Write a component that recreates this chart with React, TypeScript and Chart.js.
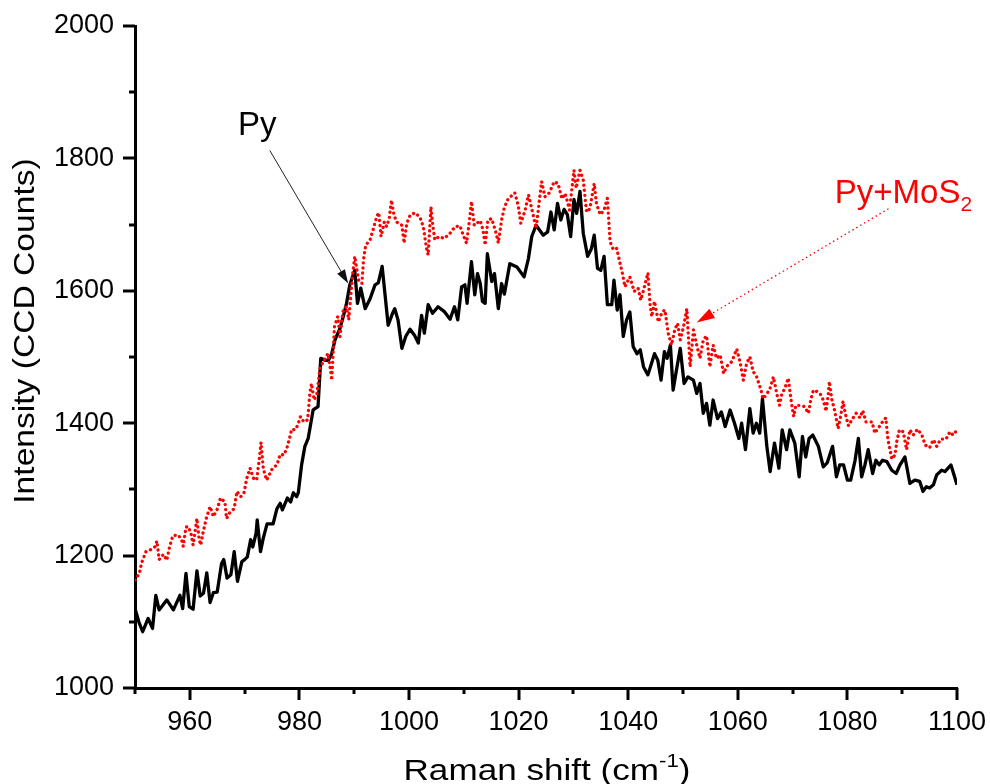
import React, { useEffect, useRef } from 'react';
import { Chart, registerables } from 'chart.js';

Chart.register(...registerables);

// ---- Data ----
const pyX = [
  950, 950.7, 951.4, 952.4, 953.2, 953.8, 954.4, 955.8, 957, 958.2, 958.7, 959.3, 959.9, 960.6, 961.3, 961.9,
  962.5, 963.1, 963.7, 964.3, 965, 965.8, 966.2, 966.8, 967.5, 968.1, 968.7, 969.5, 970, 970.5, 971.1, 971.5,
  972.1, 972.3, 972.9, 973.4, 974.1, 975.2, 975.9, 976.5, 976.9, 977.8, 978.4, 978.9, 979.5, 979.8, 980.4, 981,
  981.6, 982.5, 983.4, 983.9, 984.7, 985.3, 985.9, 986.5, 987.4, 988, 988.6, 989.2, 990.1, 990.6, 991.2, 992,
  992.9, 993.8, 994.4, 995.1, 996.2, 997, 997.4, 998, 998.7, 999.4, 1000.2, 1001, 1001.7, 1002.3, 1002.8, 1003.5,
  1004.3, 1005.3, 1006.4, 1007.5, 1008.3, 1008.9, 1009.6, 1010.2, 1010.6, 1011.4, 1012, 1012.5, 1013, 1013.4, 1013.9, 1014.3,
  1015.1, 1015.6, 1016.3, 1016.9, 1017.4, 1018.4, 1019.7, 1021, 1021.8, 1022.4, 1023.2, 1024.5, 1025.3, 1025.9, 1026.5, 1027.1,
  1027.7, 1028.3, 1028.9, 1029.5, 1030.1, 1030.6, 1031.2, 1031.8, 1032.6, 1033.3, 1033.8, 1034.4, 1035, 1035.6, 1036.2, 1037,
  1037.4, 1038, 1038.5, 1039.1, 1039.7, 1040.3, 1040.9, 1041.6, 1042.2, 1042.8, 1043.6, 1044.8, 1045.4, 1046, 1046.6, 1047.1,
  1047.7, 1048.2, 1048.8, 1049.5, 1050.2, 1050.9, 1051.9, 1052.5, 1053.1, 1053.7, 1054.3, 1054.9, 1055.5, 1056.3, 1057, 1057.7,
  1058.6, 1059.4, 1060.2, 1060.7, 1061.4, 1062.2, 1062.8, 1063.4, 1064, 1064.5, 1065.3, 1065.9, 1066.7, 1067.5, 1068.1, 1068.9,
  1069.5, 1070.4, 1071.2, 1071.8, 1072.4, 1073, 1073.7, 1074.7, 1075.6, 1076.3, 1077.3, 1078, 1078.6, 1079.3, 1080, 1080.6,
  1081.4, 1082, 1082.6, 1083.2, 1083.8, 1084.6, 1085.2, 1085.8, 1086.4, 1087.2, 1088.1, 1088.9, 1089.6, 1090.5, 1091.4, 1092.3,
  1093.2, 1093.8, 1094.4, 1095, 1095.7, 1096.3, 1097.2, 1097.8, 1098.9, 1100,
];
const pyY = [
  1120, 1100, 1085, 1105, 1090, 1140, 1118, 1133, 1118, 1140, 1120, 1173, 1123, 1119, 1177, 1139,
  1143, 1174, 1129, 1144, 1145, 1188, 1194, 1166, 1171, 1206, 1161, 1191, 1194, 1198, 1224, 1213,
  1234, 1254, 1206, 1226, 1248, 1248, 1271, 1279, 1269, 1287, 1281, 1295, 1289, 1295, 1337, 1365,
  1377, 1420, 1425, 1498, 1495, 1495, 1505, 1526, 1543, 1561, 1581, 1609, 1631, 1581, 1604, 1573,
  1588, 1609, 1612, 1637, 1548, 1566, 1573, 1556, 1513, 1531, 1542, 1533, 1521, 1563, 1536, 1579,
  1566, 1576, 1569, 1557, 1576, 1556, 1606, 1609, 1581, 1644, 1594, 1626, 1611, 1584, 1581, 1656,
  1614, 1626, 1573, 1611, 1595, 1641, 1636, 1621, 1649, 1682, 1699, 1684, 1689, 1719, 1692, 1732,
  1707, 1723, 1715, 1682, 1738, 1717, 1750, 1687, 1652, 1664, 1684, 1634, 1631, 1652, 1579, 1579,
  1616, 1571, 1594, 1531, 1556, 1568, 1516, 1505, 1511, 1485, 1473, 1505, 1495, 1465, 1508, 1498,
  1518, 1450, 1480, 1513, 1460, 1470, 1465, 1445, 1460, 1415, 1430, 1397, 1435, 1407, 1417, 1395,
  1420, 1400, 1377, 1400, 1360, 1422, 1385, 1400, 1385, 1437, 1365, 1327, 1370, 1332, 1390, 1360,
  1390, 1370, 1319, 1380, 1349, 1377, 1382, 1365, 1334, 1340, 1365, 1319, 1337, 1337, 1314, 1314,
  1344, 1377, 1319, 1337, 1360, 1324, 1344, 1337, 1344, 1342, 1329, 1324, 1337, 1349, 1309, 1314,
  1312, 1297, 1304, 1302, 1307, 1322, 1329, 1327, 1337, 1307,
];

const mosX = [
  950, 950.8, 951.2, 952, 952.9, 953.6, 954, 954.4, 955.2, 955.8, 956.3, 956.9, 957.9, 958.5, 958.8, 959.3,
  959.7, 960.2, 960.6, 961.3, 961.7, 962, 962.4, 963, 963.7, 964.3, 965, 965.6, 966.4, 966.7, 967.3, 968.1,
  968.6, 969.3, 969.9, 970.4, 971, 971.6, 972.2, 972.7, 973, 973.4, 974, 974.5, 975.1, 975.9, 976.5, 977.2,
  977.8, 978.2, 978.6, 979.2, 979.7, 980.2, 980.8, 981.5, 981.9, 982.2, 982.7, 983.2, 983.8, 984.4, 985.2, 985.6,
  985.9, 986.4, 987, 987.4, 988, 988.6, 989, 989.7, 990.1, 990.8, 991.4, 991.7, 992.1, 992.9, 993.5, 994.1,
  994.5, 994.9, 995.5, 995.9, 996.4, 996.8, 997.2, 997.7, 998.7, 999.1, 999.6, 1000.2, 1001.1, 1002, 1002.6, 1003.2,
  1003.5, 1004, 1004.3, 1004.7, 1005.5, 1006.4, 1007.5, 1008.4, 1009.3, 1009.9, 1010.5, 1011, 1011.4, 1011.9, 1013, 1013.5,
  1013.9, 1014.4, 1015.1, 1015.9, 1016.3, 1016.9, 1017.4, 1018.1, 1019.3, 1019.9, 1020.4, 1021.2, 1021.8, 1022.4, 1023.2, 1023.8,
  1024.2, 1024.8, 1025.6, 1026.5, 1027.2, 1027.9, 1028.5, 1029.3, 1030.1, 1030.5, 1031.2, 1031.8, 1032.4, 1033, 1033.8, 1034.2,
  1034.9, 1035.6, 1036.2, 1036.7, 1037.3, 1037.9, 1038.5, 1039, 1039.4, 1040.3, 1041.1, 1041.8, 1042.3, 1042.8, 1043.6, 1044,
  1044.3, 1044.8, 1045.5, 1046.2, 1046.7, 1047.3, 1047.9, 1048.5, 1049, 1049.5, 1050.1, 1050.7, 1051.3, 1051.9, 1052.5, 1053.1,
  1053.7, 1054.3, 1054.9, 1055.5, 1056.1, 1056.8, 1057.4, 1058, 1058.9, 1059.8, 1060.4, 1061, 1061.6, 1062.2, 1062.8, 1063.4,
  1064.2, 1064.6, 1065.3, 1065.9, 1066.5, 1067.1, 1067.6, 1068, 1068.6, 1069.2, 1069.8, 1070.2, 1070.6, 1071.2, 1072.2, 1072.9,
  1073.3, 1073.8, 1074.4, 1075, 1075.6, 1076.1, 1076.5, 1076.7, 1077.1, 1077.7, 1078.3, 1078.8, 1079.2, 1079.6, 1080.2, 1080.8,
  1081.6, 1082.3, 1082.8, 1083.4, 1084.5, 1085, 1085.6, 1086.4, 1087, 1087.4, 1088.1, 1088.7, 1089, 1089.5, 1090.2, 1090.8,
  1091.4, 1092, 1092.8, 1093.6, 1094.2, 1095, 1095.7, 1096.3, 1097, 1098, 1098.7, 1099.3, 1100,
];
const mosY = [
  1163, 1173, 1189, 1206, 1209, 1213, 1222, 1194, 1202, 1193, 1213, 1230, 1231, 1224, 1214, 1243,
  1244, 1234, 1216, 1256, 1224, 1216, 1234, 1256, 1274, 1259, 1270, 1287, 1281, 1256, 1265, 1271,
  1297, 1289, 1295, 1317, 1332, 1317, 1314, 1347, 1371, 1332, 1314, 1322, 1332, 1337, 1353, 1352,
  1365, 1377, 1391, 1390, 1397, 1410, 1402, 1405, 1445, 1460, 1435, 1445, 1485, 1493, 1505, 1485,
  1465, 1546, 1561, 1531, 1571, 1576, 1556, 1624, 1652, 1616, 1611, 1647, 1669, 1677, 1694, 1712,
  1718, 1682, 1704, 1697, 1709, 1737, 1717, 1704, 1699, 1672, 1702, 1714, 1718, 1711, 1697, 1664,
  1654, 1727, 1702, 1677, 1682, 1679, 1687, 1697, 1698, 1684, 1672, 1704, 1735, 1699, 1706, 1692,
  1669, 1707, 1709, 1687, 1672, 1707, 1726, 1739, 1748, 1730, 1702, 1722, 1745, 1724, 1694, 1737,
  1765, 1742, 1748, 1765, 1762, 1739, 1747, 1722, 1782, 1755, 1782, 1767, 1719, 1724, 1762, 1732,
  1715, 1722, 1740, 1674, 1662, 1664, 1642, 1624, 1606, 1621, 1599, 1604, 1586, 1601, 1627, 1579,
  1561, 1584, 1553, 1568, 1571, 1536, 1518, 1541, 1551, 1526, 1546, 1573, 1485, 1541, 1518, 1498,
  1526, 1532, 1485, 1518, 1498, 1503, 1475, 1486, 1493, 1512, 1493, 1465, 1490, 1500, 1478, 1471,
  1451, 1437, 1444, 1453, 1470, 1445, 1427, 1443, 1453, 1468, 1430, 1410, 1427, 1427, 1425, 1415,
  1435, 1450, 1448, 1445, 1435, 1418, 1443, 1463, 1438, 1418, 1392, 1412, 1433, 1415, 1396, 1405,
  1415, 1408, 1419, 1402, 1402, 1385, 1392, 1402, 1408, 1375, 1346, 1352, 1372, 1390, 1387, 1360,
  1390, 1382, 1391, 1382, 1367, 1363, 1375, 1365, 1376, 1376, 1387, 1382, 1390,
];

const xTickValues = [950, 960, 970, 980, 990, 1000, 1010, 1020, 1030, 1040, 1050, 1060, 1070, 1080, 1090, 1100];
const xLabelledTicks = [960, 980, 1000, 1020, 1040, 1060, 1080, 1100];
const yTickValues = [1000, 1100, 1200, 1300, 1400, 1500, 1600, 1700, 1800, 1900, 2000];
const yLabelledTicks = [1000, 1200, 1400, 1600, 1800, 2000];

const seriesNames = ['Py+MoS2', 'Py'];

// Annotation anchors, in data units
const pyLabel = { text: 'Py', x: 968.8, y: 1835 };
const pyArrow = { x1: 974.6, y1: 1812, x2: 988.9, y2: 1611 };
const mosLabel = { main: 'Py+MoS', sub: '2', x: 1077.7, y: 1732 };
const mosArrow = { x1: 1087.5, y1: 1724, x2: 1052.5, y2: 1552 };

const FONT = '"Liberation Sans", Arial, Helvetica, sans-serif';
const RED = '#ff0000';

function drawArrowHead(ctx: CanvasRenderingContext2D, x1: number, y1: number, x2: number, y2: number, len: number, wid: number, color: string) {
  const a = Math.atan2(y2 - y1, x2 - x1);
  ctx.save();
  ctx.fillStyle = color;
  ctx.beginPath();
  ctx.moveTo(x2, y2);
  ctx.lineTo(x2 - len * Math.cos(a) + (wid / 2) * Math.sin(a), y2 - len * Math.sin(a) - (wid / 2) * Math.cos(a));
  ctx.lineTo(x2 - len * Math.cos(a) - (wid / 2) * Math.sin(a), y2 - len * Math.sin(a) + (wid / 2) * Math.cos(a));
  ctx.closePath();
  ctx.fill();
  ctx.restore();
}

const decorPlugin = {
  id: 'decor',
  afterDraw(chart: any) {
    const ctx: CanvasRenderingContext2D = chart.ctx;
    const xs = chart.scales.x;
    const ys = chart.scales.y;
    const area = chart.chartArea;
    ctx.save();

    // tick marks (major long, minor short)
    ctx.strokeStyle = '#000';
    ctx.lineWidth = 3;
    ctx.lineCap = 'butt';
    for (const v of xTickValues) {
      const px = Math.round(xs.getPixelForValue(v));
      const len = xLabelledTicks.includes(v) ? 12 : 6;
      ctx.beginPath();
      ctx.moveTo(px, area.bottom);
      ctx.lineTo(px, area.bottom + len);
      ctx.stroke();
    }
    for (const v of yTickValues) {
      const py = Math.round(ys.getPixelForValue(v));
      const len = yLabelledTicks.includes(v) ? 12 : 6;
      ctx.beginPath();
      ctx.moveTo(area.left - len, py);
      ctx.lineTo(area.left, py);
      ctx.stroke();
    }

    // x axis title with superscript
    ctx.fillStyle = '#000';
    ctx.textBaseline = 'alphabetic';
    ctx.textAlign = 'left';
    const xStretch = 1.17;
    const yStretch = 1.12;
    const big = `30px ${FONT}`;
    const small = `19px ${FONT}`;
    ctx.font = big;
    const w1 = ctx.measureText('Raman shift (cm').width;
    const w3 = ctx.measureText(')').width;
    ctx.font = small;
    const w2 = ctx.measureText('-1').width;
    const total = (w1 + w2 + w3) * xStretch;
    const cx = (area.left + area.right) / 2 + 1;
    ctx.save();
    ctx.translate(cx - total / 2, 780);
    ctx.scale(xStretch, 1);
    ctx.font = big;
    ctx.fillText('Raman shift (cm', 0, 0);
    ctx.font = small;
    ctx.fillText('-1', w1, -13);
    ctx.font = big;
    ctx.fillText(')', w1 + w2, 0);
    ctx.restore();

    // y axis title
    ctx.save();
    ctx.translate(34, (area.top + area.bottom) / 2 - 26);
    ctx.rotate(-Math.PI / 2);
    ctx.scale(yStretch, 1);
    ctx.font = big;
    ctx.textAlign = 'center';
    ctx.fillText('Intensity (CCD Counts)', 0, 0);
    ctx.restore();

    // Py annotation
    ctx.font = `33px ${FONT}`;
    ctx.fillStyle = '#000';
    ctx.textAlign = 'left';
    ctx.fillText(pyLabel.text, xs.getPixelForValue(pyLabel.x), ys.getPixelForValue(pyLabel.y));
    {
      const x1 = xs.getPixelForValue(pyArrow.x1), y1 = ys.getPixelForValue(pyArrow.y1);
      const x2 = xs.getPixelForValue(pyArrow.x2), y2 = ys.getPixelForValue(pyArrow.y2);
      const a = Math.atan2(y2 - y1, x2 - x1);
      ctx.strokeStyle = '#222';
      ctx.lineWidth = 1;
      ctx.beginPath();
      ctx.moveTo(x1, y1);
      ctx.lineTo(x2 - 10 * Math.cos(a), y2 - 10 * Math.sin(a));
      ctx.stroke();
      drawArrowHead(ctx, x1, y1, x2, y2, 14, 9, '#111');
    }

    // Py+MoS2 annotation
    ctx.fillStyle = RED;
    const mx = xs.getPixelForValue(mosLabel.x);
    const my = ys.getPixelForValue(mosLabel.y);
    ctx.font = `33px ${FONT}`;
    const mw = ctx.measureText(mosLabel.main).width;
    ctx.fillText(mosLabel.main, mx, my);
    ctx.font = `21px ${FONT}`;
    ctx.fillText(mosLabel.sub, mx + mw, my + 8);
    {
      const x1 = xs.getPixelForValue(mosArrow.x1), y1 = ys.getPixelForValue(mosArrow.y1);
      const x2 = xs.getPixelForValue(mosArrow.x2), y2 = ys.getPixelForValue(mosArrow.y2);
      const a = Math.atan2(y2 - y1, x2 - x1);
      ctx.strokeStyle = RED;
      ctx.lineWidth = 1.3;
      ctx.setLineDash([1.5, 3]);
      ctx.beginPath();
      ctx.moveTo(x1, y1);
      ctx.lineTo(x2 - 14 * Math.cos(a), y2 - 14 * Math.sin(a));
      ctx.stroke();
      ctx.setLineDash([]);
      drawArrowHead(ctx, x1, y1, x2, y2, 18, 11, RED);
    }

    ctx.restore();
  },
};

function zeroPad(s: any) {
  s.paddingTop = 0;
  s.paddingBottom = 0;
  s.paddingLeft = 0;
  s.paddingRight = 0;
}

export default function App() {
  const canvasRef = useRef<HTMLCanvasElement | null>(null);

  useEffect(() => {
    const canvas = canvasRef.current;
    if (!canvas) return;
    const mosData = mosX.map((x, i) => ({ x, y: mosY[i] }));
    const pyData = pyX.map((x, i) => ({ x, y: pyY[i] }));

    const chart = new Chart(canvas, {
      type: 'line',
      data: {
        datasets: [
          {
            label: seriesNames[0],
            data: mosData,
            borderColor: RED,
            backgroundColor: RED,
            borderWidth: 3.3,
            borderDash: [0.1, 5],
            borderCapStyle: 'round',
            borderJoinStyle: 'round',
            pointRadius: 0,
            tension: 0,
            fill: false,
          },
          {
            label: seriesNames[1],
            data: pyData,
            borderColor: '#000',
            backgroundColor: '#000',
            borderWidth: 3.3,
            borderJoinStyle: 'round',
            pointRadius: 0,
            tension: 0,
            fill: false,
          },
        ],
      },
      options: {
        animation: false,
        responsive: false,
        devicePixelRatio: 1,
        layout: { padding: { top: 26, right: 33, left: 0, bottom: 0 } },
        plugins: {
          legend: { display: false },
          tooltip: { enabled: false },
          title: { display: false },
        },
        scales: {
          x: {
            type: 'linear',
            min: 950,
            max: 1100,
            afterFit: (s: any) => { s.height = 96; zeroPad(s); },
            afterBuildTicks: (s: any) => { s.ticks = xTickValues.map((v) => ({ value: v })); },
            ticks: {
              autoSkip: false,
              maxRotation: 0,
              padding: 18,
              color: '#000',
              font: { family: FONT, size: 27 },
              callback: (v: any) => (xLabelledTicks.includes(Number(v)) ? String(v) : ''),
            },
            grid: { display: false, drawTicks: false },
            border: { display: true, color: '#000', width: 3 },
          },
          y: {
            type: 'linear',
            min: 1000,
            max: 2000,
            afterFit: (s: any) => { s.width = 135; zeroPad(s); },
            afterBuildTicks: (s: any) => { s.ticks = yTickValues.map((v) => ({ value: v })); },
            ticks: {
              autoSkip: false,
              padding: 21,
              color: '#000',
              font: { family: FONT, size: 27 },
              callback: (v: any) => (yLabelledTicks.includes(Number(v)) ? String(v) : ''),
            },
            grid: { display: false, drawTicks: false },
            border: { display: true, color: '#000', width: 3 },
          },
        },
      },
      plugins: [decorPlugin],
    } as any);

    return () => chart.destroy();
  }, []);

  return (
    <div style={{ position: 'absolute', left: 0, top: 0, width: 990, height: 784, background: '#fff' }}>
      <canvas ref={canvasRef} width={990} height={784} style={{ display: 'block' }} />
    </div>
  );
}
